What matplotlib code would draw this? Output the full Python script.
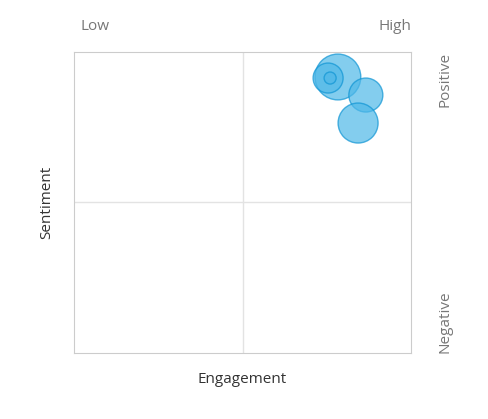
import matplotlib.pyplot as plt

plt.rcParams['font.family'] = ['Open Sans', 'DejaVu Sans']

engagement = [78.3, 75.4, 76.0, 86.6, 84.3]
sentiment = [83.4, 82.7, 82.7, 71.4, 52.8]
sizes = [1090, 467, 75, 600, 830]

fig = plt.figure(figsize=(4.88, 4.19), dpi=100)
ax = fig.add_axes([74/488, 1-353/419, 337/488, 301/419])
ax.scatter(engagement, sentiment, s=sizes, color='#4fb8e8', alpha=0.7,
           edgecolors='#0f95d4', linewidths=1, zorder=3)
ax.set_xlim(0, 100)
ax.set_ylim(-100, 100)
ax.axvline(50, color='#e3e3e3', lw=1, zorder=1)
ax.axhline(0, color='#e3e3e3', lw=1, zorder=1)
ax.set_xticks([])
ax.set_yticks([])
for s in ax.spines.values():
    s.set_color('#cccccc')
ax.set_xlabel('Engagement', fontsize=11, color='#333333', labelpad=14)
ax.set_ylabel('Sentiment', fontsize=11, color='#333333', labelpad=14)
ax.text(0.02, 1.06, 'Low', transform=ax.transAxes, fontsize=11, color='#777777', va='bottom')
ax.text(1.0, 1.06, 'High', transform=ax.transAxes, fontsize=11, color='#777777', va='bottom', ha='right')
ax.text(1.1, 1.0, 'Positive', transform=ax.transAxes, fontsize=11, color='#777777', rotation=90, va='top', ha='center')
ax.text(1.1, 0.0, 'Negative', transform=ax.transAxes, fontsize=11, color='#777777', rotation=90, va='bottom', ha='center')
fig.savefig('out.png', dpi=100)
